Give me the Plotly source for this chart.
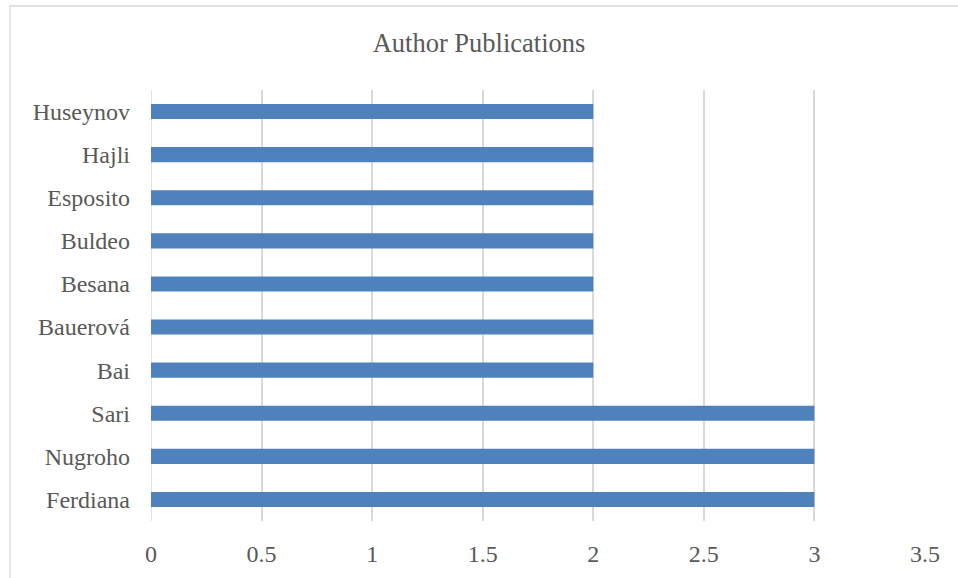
import plotly.graph_objects as go

authors = ["Ferdiana", "Nugroho", "Sari", "Bai", "Bauerová", "Besana",
           "Buldeo", "Esposito", "Hajli", "Huseynov"]
publications = [3, 3, 3, 2, 2, 2, 2, 2, 2, 2]
x_ticks = [0, 0.5, 1, 1.5, 2, 2.5, 3, 3.5]

FONT = "Liberation Serif"
fig = go.Figure(go.Bar(
    x=publications, y=authors, orientation="h",
    marker=dict(color="#4F81BD", line=dict(width=0)),
))

W, H = 958, 578
L, R, T, B = 151, 33, 90, 57
pw, ph = W - L - R, H - T - B

fig.update_layout(
    width=W, height=H,
    margin=dict(l=L, r=R, t=T, b=B),
    paper_bgcolor="white", plot_bgcolor="white",
    bargap=0.65,
    showlegend=False,
    title=dict(text="Author Publications", x=0.5, xanchor="center",
               y=1 - 43 / H, yanchor="middle",
               font=dict(family=FONT, size=26.5, color="#595959")),
    font=dict(family=FONT, size=24, color="#595959"),
    xaxis=dict(range=[0, 3.5], tickvals=x_ticks,
               ticktext=[f"{v:g}" for v in x_ticks],
               showgrid=True, gridcolor="#D9D9D9", gridwidth=1.5,
               zeroline=False, showline=False, ticks="",
               ticklabelstandoff=16, fixedrange=True),
    yaxis=dict(showgrid=False, zeroline=False, showline=False, ticks="",
               ticklabelstandoff=20, fixedrange=True),
    shapes=[dict(type="rect", xref="paper", yref="paper",
                 x0=(10 - L) / pw, x1=(W + 5 - L) / pw,
                 y0=-(B + 5) / ph, y1=1 + (T - 6) / ph,
                 line=dict(color="#D9D9D9", width=1.3),
                 fillcolor="rgba(0,0,0,0)", layer="below")],
)
# zero gridline
fig.add_vline(x=0, line=dict(color="#D9D9D9", width=1.5), layer="below")

fig.write_html("out.html",
               config={"displayModeBar": False},
               post_script="document.body.style.margin='0';document.body.style.overflow='hidden';")
